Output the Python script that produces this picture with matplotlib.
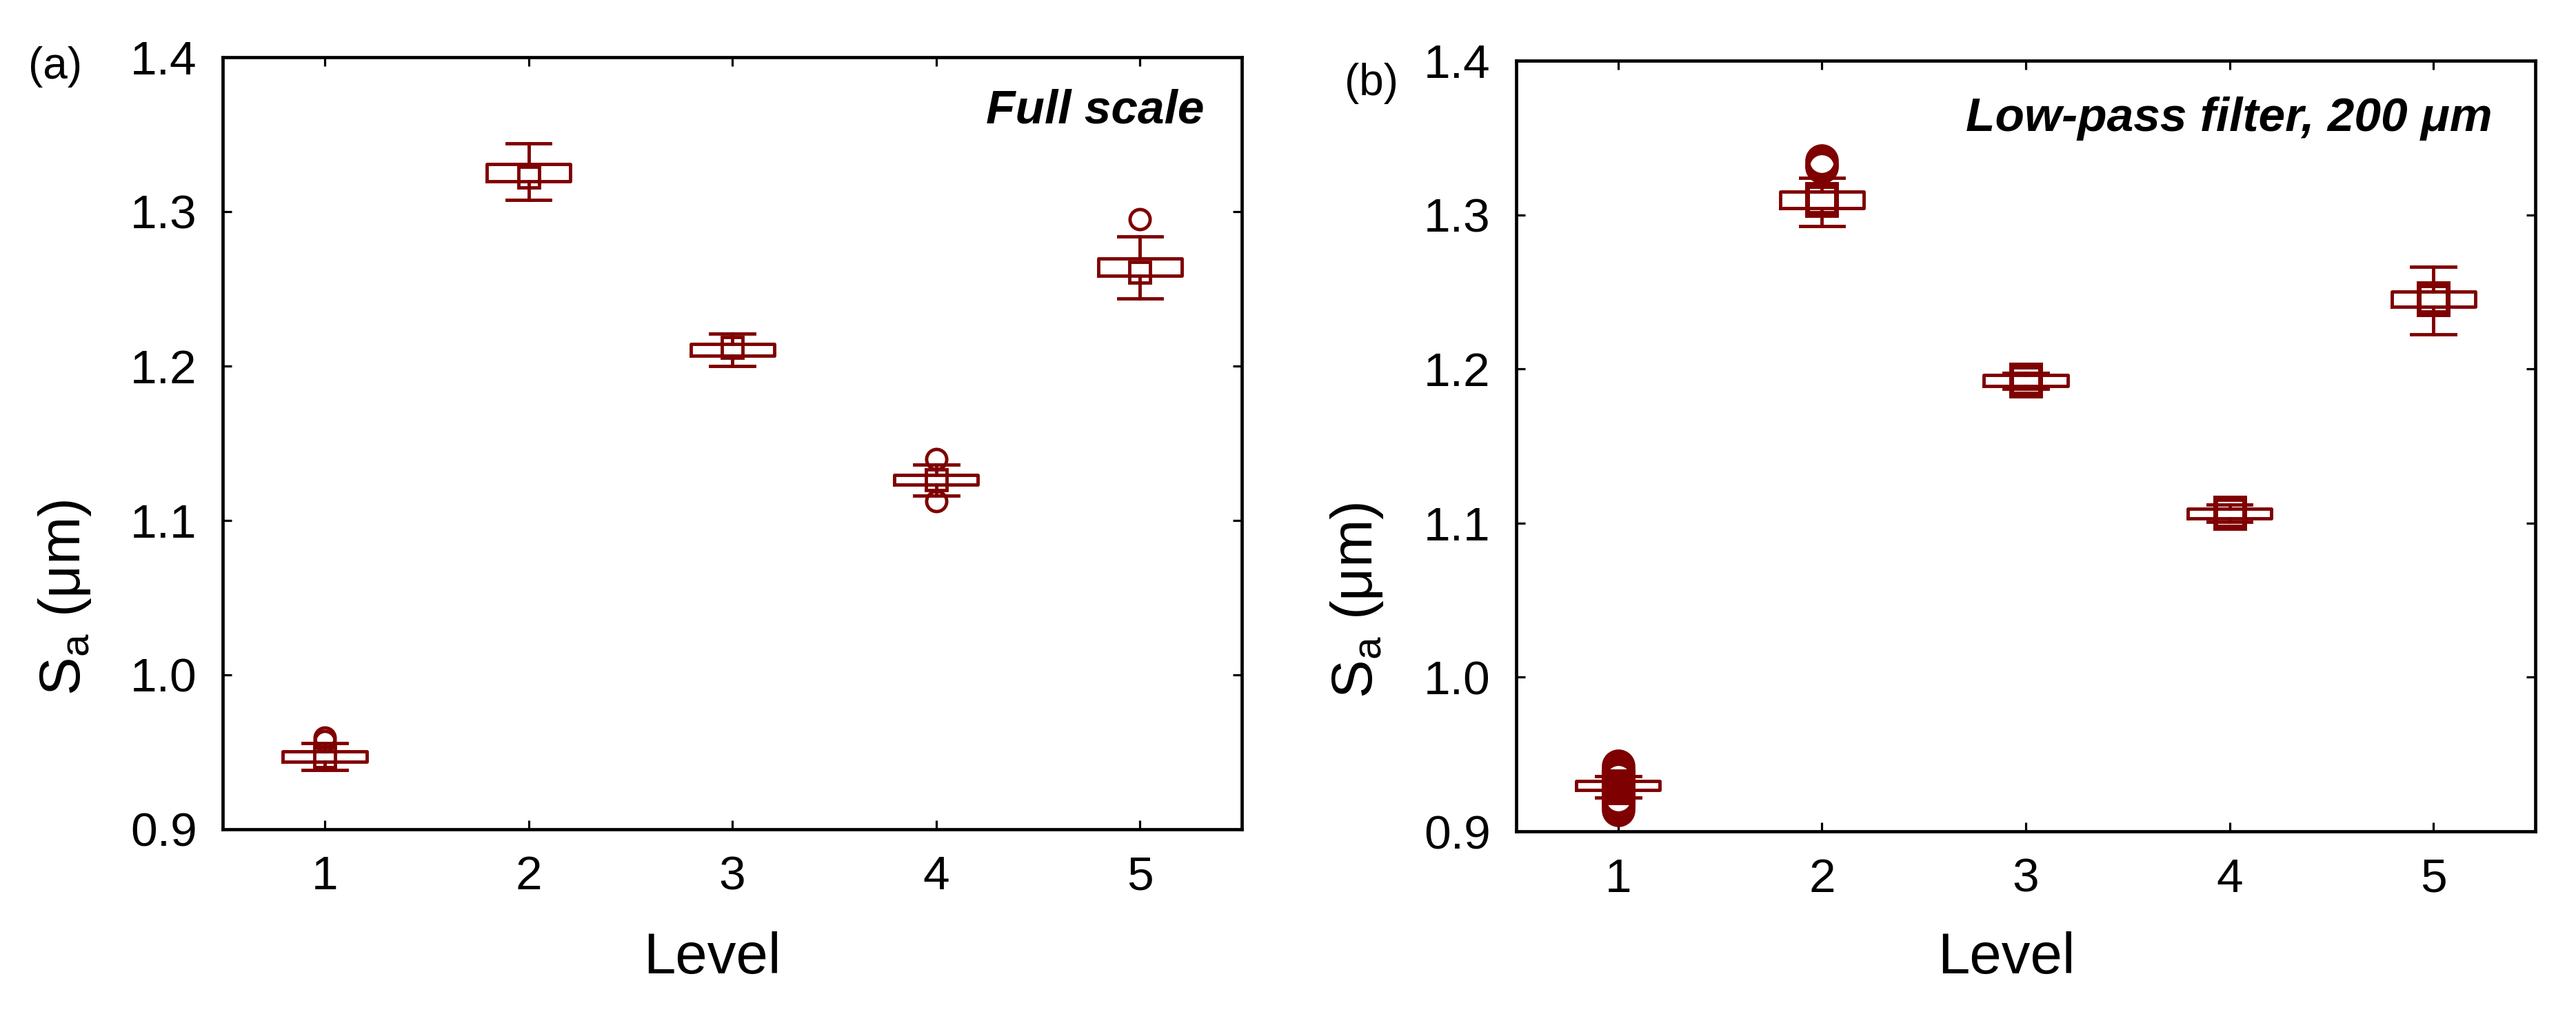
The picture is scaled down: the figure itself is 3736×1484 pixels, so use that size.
import numpy as np
import matplotlib
matplotlib.use("Agg")
import matplotlib.pyplot as plt

plt.rcParams['font.family'] = ['Liberation Sans', 'DejaVu Sans']
plt.rcParams['mathtext.fontset'] = 'custom'
plt.rcParams['mathtext.rm'] = 'Liberation Sans'
plt.rcParams['mathtext.default'] = 'regular'

DARK_RED = '#7f0000'

levels = [1, 2, 3, 4, 5]

# (a) full scale
a_q1 = [0.9438, 1.3196, 1.2067, 1.1232, 1.2585]
a_q3 = [0.9504, 1.3308, 1.2143, 1.1295, 1.2696]
a_lo = [0.9384, 1.3076, 1.2000, 1.1161, 1.2438]
a_hi = [0.9558, 1.3442, 1.2210, 1.1362, 1.2839]
a_points = [[0.9470], [1.3223], [1.2120], [1.1263], [1.2607]]
a_fliers = [[0.9594, 0.9570], [], [], [1.1397, 1.1125], [1.2951]]
a_cross = [[], [], [], [], []]

# (b) low-pass filter, 200 um
b_q1 = [0.9268, 1.3043, 1.1890, 1.1030, 1.2405]
b_q3 = [0.9327, 1.3150, 1.1960, 1.1095, 1.2500]
b_lo = [0.9220, 1.2927, 1.1870, 1.1010, 1.2225]
b_hi = [0.9360, 1.3240, 1.1975, 1.1120, 1.2665]
b_points = [[0.9280, 0.9295],
            [1.3090, 1.3105],
            [1.1920, 1.1932],
            [1.1060, 1.1072],
            [1.2450, 1.2462]]
b_fliers = [[0.9425, 0.9400, 0.9370, 0.9350, 0.9210, 0.9180, 0.9160, 0.9140],
            [1.3350, 1.3325, 1.3310], [], [], []]
b_cross = [[0.9095], [], [], [], []]

yticks = [0.9, 1.0, 1.1, 1.2, 1.3, 1.4]


def draw_panel(ax, q1, q3, lo, hi, points, fliers, cross, msize, mew, note):
    stats = []
    for i in range(len(levels)):
        stats.append(dict(q1=q1[i], q3=q3[i], whislo=lo[i], whishi=hi[i],
                          med=points[i][len(points[i]) // 2], fliers=fliers[i]))
    line = dict(color=DARK_RED, linewidth=3.5)
    ax.bxp(stats, positions=levels, widths=0.41, capwidths=0.215,
           boxprops=line, whiskerprops=line, capprops=line,
           medianprops=dict(visible=False),
           flierprops=dict(marker='o', markerfacecolor='none',
                           markeredgecolor=DARK_RED, markersize=msize,
                           markeredgewidth=mew, linestyle='none'),
           showfliers=True, manage_ticks=False)
    for lev, pts in zip(levels, points):
        ax.plot([lev] * len(pts), pts, linestyle='none', marker='s',
                markerfacecolor='none', markeredgecolor=DARK_RED,
                markersize=msize, markeredgewidth=mew)
    for lev, pts in zip(levels, cross):
        if pts:
            ax.plot([lev] * len(pts), pts, linestyle='none', marker='x',
                    color=DARK_RED, markersize=12, markeredgewidth=3)

    ax.set_xlim(0.5, 5.5)
    ax.set_ylim(0.9, 1.4)
    ax.set_xticks(levels)
    ax.set_yticks(yticks)
    ax.set_yticklabels([f'{v:.1f}' for v in yticks])
    ax.tick_params(direction='in', length=9.5, width=2.3, top=True, right=True,
                   labelsize=50, pad=27)
    for sp in ax.spines.values():
        sp.set_linewidth(3.4)
    ax.set_xlabel('Level', fontsize=60)
    ax.set_ylabel('S$_a$ (μm)', fontsize=60)
    ax.text(note[0], note[1], note[2], transform=ax.transAxes, ha='right',
            va='center', fontsize=50, fontweight='bold', fontstyle='italic')


fig = plt.figure(figsize=(37.36, 14.84), dpi=100)
ax1 = fig.add_axes([0.0865, 0.1894, 0.3956, 0.7547])
ax2 = fig.add_axes([0.5886, 0.1873, 0.3956, 0.7534])

draw_panel(ax1, a_q1, a_q3, a_lo, a_hi, a_points, a_fliers, a_cross,
           21, 3.5, (0.963, 0.931, 'Full scale'))
draw_panel(ax2, b_q1, b_q3, b_lo, b_hi, b_points, b_fliers, b_cross,
           30, 5.0, (0.958, 0.925, 'Low-pass filter, 200 μm'))

ax1.yaxis.set_label_coords(-0.127, 0.30)
ax2.yaxis.set_label_coords(-0.1286, 0.30)
ax1.xaxis.set_label_coords(0.48, -0.132)
ax2.xaxis.set_label_coords(0.481, -0.13)

fig.text(0.0214, 0.9346, '(a)', fontsize=46, ha='center', va='center')
fig.text(0.5324, 0.9185, '(b)', fontsize=46, ha='center', va='center')

fig.savefig('out.png', dpi=100)
